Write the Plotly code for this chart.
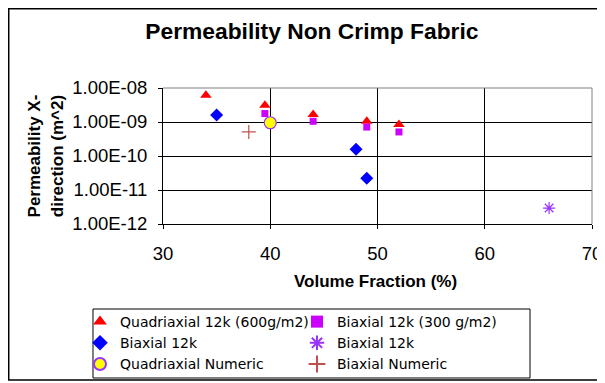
import plotly.graph_objects as go

# ---- data ----
quad_x = [34, 39.5, 44, 49, 52]
quad_y = [6.1e-9, 3.1e-9, 1.65e-9, 1.05e-9, 8.5e-10]

biax300_x = [39.5, 44, 49, 52]
biax300_y = [1.77e-9, 1.05e-9, 7.1e-10, 5.1e-10]

biax_x = [35, 48, 49]
biax_y = [1.6e-9, 1.58e-10, 2.2e-11]

biax2_x = [66]
biax2_y = [2.95e-12]

quadnum_x = [40]
quadnum_y = [9.5e-10]

biaxnum_x = [38]
biaxnum_y = [5.1e-10]

x_ticks = [30, 40, 50, 60, 70]
y_tickvals = [1e-12, 1e-11, 1e-10, 1e-9, 1e-8]
y_ticklabels = ["1.00E-12", "1.00E-11", "1.00E-10", "1.00E-09", "1.00E-08"]

FONT = "Arial, Liberation Sans, sans-serif"

fig = go.Figure()
fig.add_trace(go.Scatter(x=quad_x, y=quad_y, mode="markers", name="Quadriaxial 12k (600g/m2)",
                         marker=dict(symbol="triangle-up", size=10, color="#FF0000")))
fig.add_trace(go.Scatter(x=biax300_x, y=biax300_y, mode="markers", name="Biaxial 12k (300 g/m2)",
                         marker=dict(symbol="square", size=7, color="#CC00FF")))
fig.add_trace(go.Scatter(x=biax_x, y=biax_y, mode="markers", name="Biaxial 12k",
                         marker=dict(symbol="diamond", size=10, color="#0000FF")))
fig.add_trace(go.Scatter(x=biax2_x, y=biax2_y, mode="markers", name="Biaxial 12k",
                         marker=dict(symbol="asterisk-open", size=10, color="#9933FF",
                                     line=dict(color="#9933FF", width=1.2))))
fig.add_trace(go.Scatter(x=quadnum_x, y=quadnum_y, mode="markers", name="Quadriaxial Numeric",
                         marker=dict(symbol="circle", size=12, color="#FFFF00",
                                     line=dict(color="#9933FF", width=1.2))))
fig.add_trace(go.Scatter(x=biaxnum_x, y=biaxnum_y, mode="markers", name="Biaxial Numeric",
                         marker=dict(symbol="cross-thin-open", size=10, color="#C0504D",
                                     line=dict(color="#C0504D", width=1.2))))

fig.update_layout(
    width=597, height=375,
    margin=dict(l=155, r=13, t=80, b=159, autoexpand=False),
    paper_bgcolor="white", plot_bgcolor="white",
    font=dict(family=FONT, color="black"),
    showlegend=True,
    legend=dict(orientation="h", x=-0.1935, xanchor="left", y=-0.603, yanchor="top",
                entrywidth=172, entrywidthmode="pixels",
                bgcolor="rgba(0,0,0,0)", borderwidth=0,
                font=dict(family="DejaVu Sans", size=14, color="black"),
                itemsizing="constant"),
    title=dict(text="<b>Permeability Non Crimp Fabric</b>", x=0.509, xanchor="center",
               xref="container", y=0.938, yanchor="middle", yref="container",
               font=dict(family=FONT, size=22.8, color="black")),
    shapes=[
        dict(type="rect", xref="paper", yref="paper",
             x0=-0.3596, x1=1.04, y0=-1.147, y1=1.5827,
             line=dict(color="black", width=1.5), fillcolor="rgba(0,0,0,0)", layer="below"),
        dict(type="rect", xref="paper", yref="paper",
             x0=-0.1632, x1=0.8555, y0=-1.1324, y1=-0.625,
             line=dict(color="black", width=1), fillcolor="rgba(0,0,0,0)", layer="below"),
    ],
    annotations=[
        dict(text="<b>Volume Fraction (%)</b>", xref="paper", yref="paper", x=0.495, y=-0.426,
             xanchor="center", yanchor="middle", showarrow=False,
             font=dict(family=FONT, size=17, color="black")),
        dict(text="<b>Permeability X-<br>direction (m^2)</b>", xref="paper", yref="paper",
             x=-0.274, y=0.5, xanchor="center", yanchor="middle", showarrow=False, textangle=-90,
             font=dict(family=FONT, size=17, color="black")),
    ],
)

fig.update_xaxes(range=[30, 70], tickvals=x_ticks, ticks="outside", ticklen=4, tickcolor="black",
                 showline=True, linecolor="black", linewidth=1, mirror=False,
                 showgrid=True, gridcolor="black", gridwidth=1, zeroline=False,
                 ticklabelstandoff=9,
                 tickfont=dict(family=FONT, size=18.5, color="black"))
fig.update_yaxes(type="log", range=[-12, -8], tickvals=y_tickvals, ticktext=y_ticklabels,
                 ticks="outside", ticklen=4, tickcolor="black",
                 showline=True, linecolor="black", linewidth=1,
                 showgrid=True, gridcolor="black", gridwidth=1, zeroline=False,
                 ticklabelstandoff=7,
                 tickfont=dict(family=FONT, size=18.5, color="black"))
# gray top/right border of plot area
fig.add_shape(type="line", xref="paper", yref="paper", x0=0, x1=1, y0=1, y1=1,
              line=dict(color="#808080", width=1))
fig.add_shape(type="line", xref="paper", yref="paper", x0=1, x1=1, y0=0, y1=1,
              line=dict(color="#808080", width=1))

fig.write_html("out.html")
